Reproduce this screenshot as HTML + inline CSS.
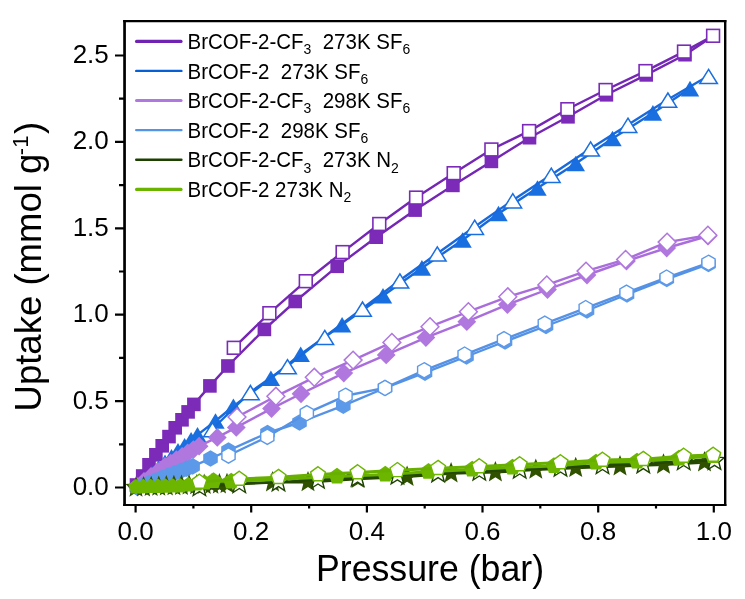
<!DOCTYPE html><html><head><meta charset="utf-8"><style>
html,body{margin:0;padding:0;background:#fff;}
svg{display:block;will-change:transform;}
text{font-family:"Liberation Sans", sans-serif;fill:#000;}
</style></head><body>
<svg width="745" height="599" viewBox="0 0 745 599">

<path d="M135.6 505V512.5 M193.4 505V508.5 M251.2 505V512.5 M309.1 505V508.5 M366.9 505V512.5 M424.7 505V508.5 M482.5 505V512.5 M540.3 505V508.5 M598.2 505V512.5 M656.0 505V508.5 M713.8 505V512.5 M124 487.5H115.0 M124 444.3H119.0 M124 401.1H115.0 M124 357.9H119.0 M124 314.7H115.0 M124 271.5H119.0 M124 228.3H115.0 M124 185.1H119.0 M124 141.9H115.0 M124 98.7H119.0 M124 55.5H115.0" stroke="#000" stroke-width="2.2" fill="none"/>
<text x="135.6" y="540" font-size="26" text-anchor="middle">0.0</text>
<text x="251.2" y="540" font-size="26" text-anchor="middle">0.2</text>
<text x="366.9" y="540" font-size="26" text-anchor="middle">0.4</text>
<text x="482.5" y="540" font-size="26" text-anchor="middle">0.6</text>
<text x="598.2" y="540" font-size="26" text-anchor="middle">0.8</text>
<text x="713.8" y="540" font-size="26" text-anchor="middle">1.0</text>
<text x="108.8" y="495.0" font-size="26" text-anchor="end">0.0</text>
<text x="108.8" y="408.6" font-size="26" text-anchor="end">0.5</text>
<text x="108.8" y="322.2" font-size="26" text-anchor="end">1.0</text>
<text x="108.8" y="235.8" font-size="26" text-anchor="end">1.5</text>
<text x="108.8" y="149.4" font-size="26" text-anchor="end">2.0</text>
<text x="108.8" y="63.0" font-size="26" text-anchor="end">2.5</text>
<text transform="translate(430,581) scale(1,1.01)" font-size="35.7" text-anchor="middle">Pressure (bar)</text>
<text transform="translate(41,411.5) rotate(-90) scale(1,1.01)" font-size="36.55">Uptake (mmol g<tspan dx="-1.5" dy="-13" font-size="22">-1</tspan><tspan dx="1.5" dy="13">)</tspan></text>
<defs><clipPath id="plotclip"><rect x="125.5" y="22" width="599" height="482"/></clipPath></defs><g clip-path="url(#plotclip)">
<path d="M136.5 485.0 L142.7 476.0 L149.0 464.8 L155.9 454.8 L162.2 445.8 L169.0 436.6 L175.2 427.8 L182.0 419.8 L188.1 411.9 L193.9 404.4 L209.9 385.9 L227.9 366.0 L264.4 329.4 L295.2 301.5 L337.2 266.3 L376.2 237.2 L415.1 210.1 L452.9 185.4 L491.4 161.4 L529.5 137.7 L568.0 116.8 L606.4 94.8 L646.2 74.9 L685.0 54.7 L713.2 36.0" fill="none" stroke="#7426B4" stroke-width="2.4" stroke-linejoin="round" stroke-linecap="round"/>
<rect x="129.7" y="478.2" width="13.6" height="13.6" fill="#7B2BB8" stroke="none" stroke-width="0"/>
<rect x="135.9" y="469.2" width="13.6" height="13.6" fill="#7B2BB8" stroke="none" stroke-width="0"/>
<rect x="142.2" y="458.0" width="13.6" height="13.6" fill="#7B2BB8" stroke="none" stroke-width="0"/>
<rect x="149.1" y="448.0" width="13.6" height="13.6" fill="#7B2BB8" stroke="none" stroke-width="0"/>
<rect x="155.4" y="439.0" width="13.6" height="13.6" fill="#7B2BB8" stroke="none" stroke-width="0"/>
<rect x="162.2" y="429.8" width="13.6" height="13.6" fill="#7B2BB8" stroke="none" stroke-width="0"/>
<rect x="168.4" y="421.0" width="13.6" height="13.6" fill="#7B2BB8" stroke="none" stroke-width="0"/>
<rect x="175.2" y="413.0" width="13.6" height="13.6" fill="#7B2BB8" stroke="none" stroke-width="0"/>
<rect x="181.3" y="405.1" width="13.6" height="13.6" fill="#7B2BB8" stroke="none" stroke-width="0"/>
<rect x="187.1" y="397.6" width="13.6" height="13.6" fill="#7B2BB8" stroke="none" stroke-width="0"/>
<rect x="203.1" y="379.1" width="13.6" height="13.6" fill="#7B2BB8" stroke="none" stroke-width="0"/>
<rect x="221.1" y="359.2" width="13.6" height="13.6" fill="#7B2BB8" stroke="none" stroke-width="0"/>
<rect x="257.6" y="322.6" width="13.6" height="13.6" fill="#7B2BB8" stroke="none" stroke-width="0"/>
<rect x="288.4" y="294.7" width="13.6" height="13.6" fill="#7B2BB8" stroke="none" stroke-width="0"/>
<rect x="330.4" y="259.5" width="13.6" height="13.6" fill="#7B2BB8" stroke="none" stroke-width="0"/>
<rect x="369.4" y="230.4" width="13.6" height="13.6" fill="#7B2BB8" stroke="none" stroke-width="0"/>
<rect x="408.3" y="203.3" width="13.6" height="13.6" fill="#7B2BB8" stroke="none" stroke-width="0"/>
<rect x="446.1" y="178.6" width="13.6" height="13.6" fill="#7B2BB8" stroke="none" stroke-width="0"/>
<rect x="484.6" y="154.6" width="13.6" height="13.6" fill="#7B2BB8" stroke="none" stroke-width="0"/>
<rect x="522.7" y="130.9" width="13.6" height="13.6" fill="#7B2BB8" stroke="none" stroke-width="0"/>
<rect x="561.2" y="110.0" width="13.6" height="13.6" fill="#7B2BB8" stroke="none" stroke-width="0"/>
<rect x="599.6" y="88.0" width="13.6" height="13.6" fill="#7B2BB8" stroke="none" stroke-width="0"/>
<rect x="639.4" y="68.1" width="13.6" height="13.6" fill="#7B2BB8" stroke="none" stroke-width="0"/>
<rect x="678.2" y="47.9" width="13.6" height="13.6" fill="#7B2BB8" stroke="none" stroke-width="0"/>
<rect x="706.4" y="29.2" width="13.6" height="13.6" fill="#7B2BB8" stroke="none" stroke-width="0"/>
<path d="M713.1 35.8 L684.0 51.6 L645.5 71.1 L605.6 90.0 L567.4 109.2 L529.1 131.1 L491.4 149.5 L453.7 173.2 L416.1 197.6 L379.3 224.0 L342.6 252.1 L305.8 281.2 L269.4 313.2 L233.8 347.8" fill="none" stroke="#7426B4" stroke-width="2.4" stroke-linejoin="round" stroke-linecap="round"/>
<rect x="706.7" y="29.4" width="12.8" height="12.8" fill="#fff" stroke="#7B2BB8" stroke-width="1.6"/>
<rect x="677.6" y="45.2" width="12.8" height="12.8" fill="#fff" stroke="#7B2BB8" stroke-width="1.6"/>
<rect x="639.1" y="64.7" width="12.8" height="12.8" fill="#fff" stroke="#7B2BB8" stroke-width="1.6"/>
<rect x="599.2" y="83.6" width="12.8" height="12.8" fill="#fff" stroke="#7B2BB8" stroke-width="1.6"/>
<rect x="561.0" y="102.8" width="12.8" height="12.8" fill="#fff" stroke="#7B2BB8" stroke-width="1.6"/>
<rect x="522.7" y="124.7" width="12.8" height="12.8" fill="#fff" stroke="#7B2BB8" stroke-width="1.6"/>
<rect x="485.0" y="143.1" width="12.8" height="12.8" fill="#fff" stroke="#7B2BB8" stroke-width="1.6"/>
<rect x="447.3" y="166.8" width="12.8" height="12.8" fill="#fff" stroke="#7B2BB8" stroke-width="1.6"/>
<rect x="409.7" y="191.2" width="12.8" height="12.8" fill="#fff" stroke="#7B2BB8" stroke-width="1.6"/>
<rect x="372.9" y="217.6" width="12.8" height="12.8" fill="#fff" stroke="#7B2BB8" stroke-width="1.6"/>
<rect x="336.2" y="245.7" width="12.8" height="12.8" fill="#fff" stroke="#7B2BB8" stroke-width="1.6"/>
<rect x="299.4" y="274.8" width="12.8" height="12.8" fill="#fff" stroke="#7B2BB8" stroke-width="1.6"/>
<rect x="263.0" y="306.8" width="12.8" height="12.8" fill="#fff" stroke="#7B2BB8" stroke-width="1.6"/>
<rect x="227.4" y="341.4" width="12.8" height="12.8" fill="#fff" stroke="#7B2BB8" stroke-width="1.6"/>
<path d="M139.0 484.5 L145.5 479.0 L152.0 473.5 L158.5 468.0 L165.0 462.4 L171.5 456.8 L178.0 450.8 L184.6 445.8 L191.1 439.8 L197.5 434.9 L215.5 421.0 L233.4 406.3 L270.9 378.3 L300.7 354.3 L342.1 324.8 L383.0 295.7 L421.9 267.9 L462.6 240.0 L498.5 213.5 L537.5 188.0 L575.8 163.5 L612.5 138.5 L652.9 112.9 L690.0 88.6" fill="none" stroke="#1869DC" stroke-width="2.4" stroke-linejoin="round" stroke-linecap="round"/>
<polygon points="139.0,476.7 148.2,492.3 129.8,492.3" fill="#1A6FE0"/>
<polygon points="145.5,471.2 154.7,486.8 136.3,486.8" fill="#1A6FE0"/>
<polygon points="152.0,465.7 161.2,481.3 142.8,481.3" fill="#1A6FE0"/>
<polygon points="158.5,460.2 167.7,475.8 149.3,475.8" fill="#1A6FE0"/>
<polygon points="165.0,454.6 174.2,470.2 155.8,470.2" fill="#1A6FE0"/>
<polygon points="171.5,449.0 180.7,464.6 162.3,464.6" fill="#1A6FE0"/>
<polygon points="178.0,443.0 187.2,458.6 168.8,458.6" fill="#1A6FE0"/>
<polygon points="184.6,438.0 193.8,453.6 175.4,453.6" fill="#1A6FE0"/>
<polygon points="191.1,432.0 200.3,447.6 181.9,447.6" fill="#1A6FE0"/>
<polygon points="197.5,427.1 206.7,442.7 188.3,442.7" fill="#1A6FE0"/>
<polygon points="215.5,413.2 224.7,428.8 206.3,428.8" fill="#1A6FE0"/>
<polygon points="233.4,398.5 242.6,414.1 224.2,414.1" fill="#1A6FE0"/>
<polygon points="270.9,370.5 280.1,386.1 261.7,386.1" fill="#1A6FE0"/>
<polygon points="300.7,346.5 309.9,362.1 291.5,362.1" fill="#1A6FE0"/>
<polygon points="342.1,317.0 351.3,332.6 332.9,332.6" fill="#1A6FE0"/>
<polygon points="383.0,287.9 392.2,303.5 373.8,303.5" fill="#1A6FE0"/>
<polygon points="421.9,260.1 431.1,275.7 412.7,275.7" fill="#1A6FE0"/>
<polygon points="462.6,232.2 471.8,247.8 453.4,247.8" fill="#1A6FE0"/>
<polygon points="498.5,205.7 507.7,221.3 489.3,221.3" fill="#1A6FE0"/>
<polygon points="537.5,180.2 546.7,195.8 528.3,195.8" fill="#1A6FE0"/>
<polygon points="575.8,155.7 585.0,171.3 566.6,171.3" fill="#1A6FE0"/>
<polygon points="612.5,130.7 621.7,146.3 603.3,146.3" fill="#1A6FE0"/>
<polygon points="652.9,105.1 662.1,120.7 643.7,120.7" fill="#1A6FE0"/>
<polygon points="690.0,80.8 699.2,96.4 680.8,96.4" fill="#1A6FE0"/>
<path d="M708.6 75.8 L667.9 99.5 L628.0 124.7 L590.6 148.4 L551.3 174.7 L512.8 200.2 L474.7 226.7 L437.3 253.4 L399.9 280.3 L362.5 308.5 L324.8 336.8 L287.5 366.1 L250.4 392.0 L212.5 429.0" fill="none" stroke="#1869DC" stroke-width="2.4" stroke-linejoin="round" stroke-linecap="round"/>
<polygon points="708.6,69.3 717.4,83.5 699.8,83.5" fill="#fff" stroke="#1A6FE0" stroke-width="1.5" stroke-linejoin="miter"/>
<polygon points="667.9,93.0 676.7,107.2 659.1,107.2" fill="#fff" stroke="#1A6FE0" stroke-width="1.5" stroke-linejoin="miter"/>
<polygon points="628.0,118.2 636.8,132.4 619.2,132.4" fill="#fff" stroke="#1A6FE0" stroke-width="1.5" stroke-linejoin="miter"/>
<polygon points="590.6,141.9 599.4,156.1 581.8,156.1" fill="#fff" stroke="#1A6FE0" stroke-width="1.5" stroke-linejoin="miter"/>
<polygon points="551.3,168.2 560.1,182.4 542.5,182.4" fill="#fff" stroke="#1A6FE0" stroke-width="1.5" stroke-linejoin="miter"/>
<polygon points="512.8,193.7 521.6,207.9 504.0,207.9" fill="#fff" stroke="#1A6FE0" stroke-width="1.5" stroke-linejoin="miter"/>
<polygon points="474.7,220.2 483.5,234.4 465.9,234.4" fill="#fff" stroke="#1A6FE0" stroke-width="1.5" stroke-linejoin="miter"/>
<polygon points="437.3,246.9 446.1,261.1 428.5,261.1" fill="#fff" stroke="#1A6FE0" stroke-width="1.5" stroke-linejoin="miter"/>
<polygon points="399.9,273.8 408.7,288.0 391.1,288.0" fill="#fff" stroke="#1A6FE0" stroke-width="1.5" stroke-linejoin="miter"/>
<polygon points="362.5,302.0 371.3,316.2 353.7,316.2" fill="#fff" stroke="#1A6FE0" stroke-width="1.5" stroke-linejoin="miter"/>
<polygon points="324.8,330.3 333.6,344.5 316.0,344.5" fill="#fff" stroke="#1A6FE0" stroke-width="1.5" stroke-linejoin="miter"/>
<polygon points="287.5,359.6 296.3,373.8 278.7,373.8" fill="#fff" stroke="#1A6FE0" stroke-width="1.5" stroke-linejoin="miter"/>
<polygon points="250.4,385.5 259.2,399.7 241.6,399.7" fill="#fff" stroke="#1A6FE0" stroke-width="1.5" stroke-linejoin="miter"/>
<polygon points="212.5,422.5 221.3,436.7 203.7,436.7" fill="#fff" stroke="#1A6FE0" stroke-width="1.5" stroke-linejoin="miter"/>
<path d="M137.0 486.5 L144.0 481.5 L151.0 476.5 L158.0 471.5 L165.0 466.5 L170.7 463.1 L176.4 459.7 L182.1 456.4 L187.7 453.0 L193.4 449.6 L199.1 446.2 L217.3 437.4 L236.3 427.4 L271.5 408.6 L301.0 393.8 L343.8 373.1 L386.2 354.9 L425.9 337.6 L466.8 321.7 L507.4 304.6 L547.5 289.5 L587.0 275.0 L626.5 261.0 L666.7 248.0 L708.0 236.0" fill="none" stroke="#AA6EDC" stroke-width="2.4" stroke-linejoin="round" stroke-linecap="round"/>
<polygon points="137.0,477.1 146.4,486.5 137.0,495.9 127.6,486.5" fill="#B077DF"/>
<polygon points="144.0,472.1 153.4,481.5 144.0,490.9 134.6,481.5" fill="#B077DF"/>
<polygon points="151.0,467.1 160.4,476.5 151.0,485.9 141.6,476.5" fill="#B077DF"/>
<polygon points="158.0,462.1 167.4,471.5 158.0,480.9 148.6,471.5" fill="#B077DF"/>
<polygon points="165.0,457.1 174.4,466.5 165.0,475.9 155.6,466.5" fill="#B077DF"/>
<polygon points="170.7,453.7 180.1,463.1 170.7,472.5 161.3,463.1" fill="#B077DF"/>
<polygon points="176.4,450.3 185.8,459.7 176.4,469.1 167.0,459.7" fill="#B077DF"/>
<polygon points="182.1,447.0 191.5,456.4 182.1,465.8 172.7,456.4" fill="#B077DF"/>
<polygon points="187.7,443.6 197.1,453.0 187.7,462.4 178.3,453.0" fill="#B077DF"/>
<polygon points="193.4,440.2 202.8,449.6 193.4,459.0 184.0,449.6" fill="#B077DF"/>
<polygon points="199.1,436.8 208.5,446.2 199.1,455.6 189.7,446.2" fill="#B077DF"/>
<polygon points="217.3,428.0 226.7,437.4 217.3,446.8 207.9,437.4" fill="#B077DF"/>
<polygon points="236.3,418.0 245.7,427.4 236.3,436.8 226.9,427.4" fill="#B077DF"/>
<polygon points="271.5,399.2 280.9,408.6 271.5,418.0 262.1,408.6" fill="#B077DF"/>
<polygon points="301.0,384.4 310.4,393.8 301.0,403.2 291.6,393.8" fill="#B077DF"/>
<polygon points="343.8,363.7 353.2,373.1 343.8,382.5 334.4,373.1" fill="#B077DF"/>
<polygon points="386.2,345.5 395.6,354.9 386.2,364.3 376.8,354.9" fill="#B077DF"/>
<polygon points="425.9,328.2 435.3,337.6 425.9,347.0 416.5,337.6" fill="#B077DF"/>
<polygon points="466.8,312.3 476.2,321.7 466.8,331.1 457.4,321.7" fill="#B077DF"/>
<polygon points="507.4,295.2 516.8,304.6 507.4,314.0 498.0,304.6" fill="#B077DF"/>
<polygon points="547.5,280.1 556.9,289.5 547.5,298.9 538.1,289.5" fill="#B077DF"/>
<polygon points="587.0,265.6 596.4,275.0 587.0,284.4 577.6,275.0" fill="#B077DF"/>
<polygon points="626.5,251.6 635.9,261.0 626.5,270.4 617.1,261.0" fill="#B077DF"/>
<polygon points="666.7,238.6 676.1,248.0 666.7,257.4 657.3,248.0" fill="#B077DF"/>
<polygon points="708.0,226.6 717.4,236.0 708.0,245.4 698.6,236.0" fill="#B077DF"/>
<path d="M707.9 235.2 L667.1 242.1 L625.6 259.4 L586.0 271.1 L546.8 284.9 L507.8 296.8 L468.4 311.7 L430.0 326.7 L391.9 342.4 L353.1 360.1 L314.3 377.3 L275.9 396.3 L237.0 417.0" fill="none" stroke="#AA6EDC" stroke-width="2.4" stroke-linejoin="round" stroke-linecap="round"/>
<polygon points="707.9,226.3 716.8,235.2 707.9,244.1 699.0,235.2" fill="#fff" stroke="#B077DF" stroke-width="1.5" stroke-linejoin="miter"/>
<polygon points="667.1,233.2 676.0,242.1 667.1,251.0 658.2,242.1" fill="#fff" stroke="#B077DF" stroke-width="1.5" stroke-linejoin="miter"/>
<polygon points="625.6,250.5 634.5,259.4 625.6,268.3 616.7,259.4" fill="#fff" stroke="#B077DF" stroke-width="1.5" stroke-linejoin="miter"/>
<polygon points="586.0,262.2 594.9,271.1 586.0,280.0 577.1,271.1" fill="#fff" stroke="#B077DF" stroke-width="1.5" stroke-linejoin="miter"/>
<polygon points="546.8,276.0 555.7,284.9 546.8,293.8 537.9,284.9" fill="#fff" stroke="#B077DF" stroke-width="1.5" stroke-linejoin="miter"/>
<polygon points="507.8,287.9 516.7,296.8 507.8,305.7 498.9,296.8" fill="#fff" stroke="#B077DF" stroke-width="1.5" stroke-linejoin="miter"/>
<polygon points="468.4,302.8 477.3,311.7 468.4,320.6 459.5,311.7" fill="#fff" stroke="#B077DF" stroke-width="1.5" stroke-linejoin="miter"/>
<polygon points="430.0,317.8 438.9,326.7 430.0,335.6 421.1,326.7" fill="#fff" stroke="#B077DF" stroke-width="1.5" stroke-linejoin="miter"/>
<polygon points="391.9,333.5 400.8,342.4 391.9,351.3 383.0,342.4" fill="#fff" stroke="#B077DF" stroke-width="1.5" stroke-linejoin="miter"/>
<polygon points="353.1,351.2 362.0,360.1 353.1,369.0 344.2,360.1" fill="#fff" stroke="#B077DF" stroke-width="1.5" stroke-linejoin="miter"/>
<polygon points="314.3,368.4 323.2,377.3 314.3,386.2 305.4,377.3" fill="#fff" stroke="#B077DF" stroke-width="1.5" stroke-linejoin="miter"/>
<polygon points="275.9,387.4 284.8,396.3 275.9,405.2 267.0,396.3" fill="#fff" stroke="#B077DF" stroke-width="1.5" stroke-linejoin="miter"/>
<polygon points="237.0,408.1 245.9,417.0 237.0,425.9 228.1,417.0" fill="#fff" stroke="#B077DF" stroke-width="1.5" stroke-linejoin="miter"/>
<path d="M137.0 487.5 L143.2 485.2 L149.4 482.8 L155.5 480.5 L161.7 478.1 L167.9 475.8 L174.1 473.4 L180.2 471.1 L186.4 468.7 L192.6 466.4 L210.5 458.5 L228.5 450.5 L267.5 433.0 L299.5 422.5 L343.3 405.7 L385.0 388.0 L425.0 372.7 L466.5 356.5 L505.0 341.5 L546.0 326.0 L587.0 310.5 L627.0 294.5 L666.8 279.0 L708.5 264.0" fill="none" stroke="#5592E6" stroke-width="2.4" stroke-linejoin="round" stroke-linecap="round"/>
<polygon points="137.0,479.2 144.3,483.4 144.3,491.6 137.0,495.8 129.7,491.6 129.7,483.4" fill="#5C99E9"/>
<polygon points="143.2,476.9 150.5,481.0 150.5,489.3 143.2,493.5 135.9,489.3 135.9,481.0" fill="#5C99E9"/>
<polygon points="149.4,474.5 156.7,478.7 156.7,487.0 149.4,491.1 142.1,487.0 142.1,478.7" fill="#5C99E9"/>
<polygon points="155.5,472.2 162.8,476.3 162.8,484.6 155.5,488.8 148.2,484.6 148.2,476.3" fill="#5C99E9"/>
<polygon points="161.7,469.8 169.0,474.0 169.0,482.3 161.7,486.4 154.4,482.3 154.4,474.0" fill="#5C99E9"/>
<polygon points="167.9,467.5 175.2,471.6 175.2,479.9 167.9,484.1 160.6,479.9 160.6,471.6" fill="#5C99E9"/>
<polygon points="174.1,465.1 181.4,469.3 181.4,477.6 174.1,481.7 166.8,477.6 166.8,469.3" fill="#5C99E9"/>
<polygon points="180.2,462.8 187.5,466.9 187.5,475.2 180.2,479.4 172.9,475.2 172.9,466.9" fill="#5C99E9"/>
<polygon points="186.4,460.4 193.7,464.6 193.7,472.9 186.4,477.0 179.1,472.9 179.1,464.6" fill="#5C99E9"/>
<polygon points="192.6,458.1 199.9,462.2 199.9,470.5 192.6,474.7 185.3,470.5 185.3,462.2" fill="#5C99E9"/>
<polygon points="210.5,450.2 217.8,454.4 217.8,462.6 210.5,466.8 203.2,462.6 203.2,454.4" fill="#5C99E9"/>
<polygon points="228.5,442.2 235.8,446.4 235.8,454.6 228.5,458.8 221.2,454.6 221.2,446.4" fill="#5C99E9"/>
<polygon points="267.5,424.7 274.8,428.9 274.8,437.1 267.5,441.3 260.2,437.1 260.2,428.9" fill="#5C99E9"/>
<polygon points="299.5,414.2 306.8,418.4 306.8,426.6 299.5,430.8 292.2,426.6 292.2,418.4" fill="#5C99E9"/>
<polygon points="343.3,397.4 350.6,401.6 350.6,409.8 343.3,414.0 336.0,409.8 336.0,401.6" fill="#5C99E9"/>
<polygon points="385.0,379.7 392.3,383.9 392.3,392.1 385.0,396.3 377.7,392.1 377.7,383.9" fill="#5C99E9"/>
<polygon points="425.0,364.4 432.3,368.6 432.3,376.8 425.0,381.0 417.7,376.8 417.7,368.6" fill="#5C99E9"/>
<polygon points="466.5,348.2 473.8,352.4 473.8,360.6 466.5,364.8 459.2,360.6 459.2,352.4" fill="#5C99E9"/>
<polygon points="505.0,333.2 512.3,337.4 512.3,345.6 505.0,349.8 497.7,345.6 497.7,337.4" fill="#5C99E9"/>
<polygon points="546.0,317.7 553.3,321.9 553.3,330.1 546.0,334.3 538.7,330.1 538.7,321.9" fill="#5C99E9"/>
<polygon points="587.0,302.2 594.3,306.4 594.3,314.6 587.0,318.8 579.7,314.6 579.7,306.4" fill="#5C99E9"/>
<polygon points="627.0,286.2 634.3,290.4 634.3,298.6 627.0,302.8 619.7,298.6 619.7,290.4" fill="#5C99E9"/>
<polygon points="666.8,270.7 674.1,274.9 674.1,283.1 666.8,287.3 659.5,283.1 659.5,274.9" fill="#5C99E9"/>
<polygon points="708.5,255.7 715.8,259.9 715.8,268.1 708.5,272.3 701.2,268.1 701.2,259.9" fill="#5C99E9"/>
<path d="M708.5 262.8 L666.6 277.6 L626.5 292.7 L585.7 308.1 L544.8 323.7 L504.0 339.2 L464.6 354.6 L424.2 370.3 L385.0 387.9 L345.5 395.8 L306.8 413.2 L267.3 436.8 L228.5 455.5" fill="none" stroke="#5592E6" stroke-width="2.4" stroke-linejoin="round" stroke-linecap="round"/>
<polygon points="708.5,255.2 715.1,259.0 715.1,266.6 708.5,270.4 701.9,266.6 701.9,259.0" fill="#fff" stroke="#5C99E9" stroke-width="1.4" stroke-linejoin="miter"/>
<polygon points="666.6,270.0 673.2,273.8 673.2,281.4 666.6,285.2 660.0,281.4 660.0,273.8" fill="#fff" stroke="#5C99E9" stroke-width="1.4" stroke-linejoin="miter"/>
<polygon points="626.5,285.1 633.1,288.9 633.1,296.5 626.5,300.3 619.9,296.5 619.9,288.9" fill="#fff" stroke="#5C99E9" stroke-width="1.4" stroke-linejoin="miter"/>
<polygon points="585.7,300.5 592.3,304.3 592.3,311.9 585.7,315.7 579.1,311.9 579.1,304.3" fill="#fff" stroke="#5C99E9" stroke-width="1.4" stroke-linejoin="miter"/>
<polygon points="544.8,316.1 551.4,319.9 551.4,327.5 544.8,331.3 538.2,327.5 538.2,319.9" fill="#fff" stroke="#5C99E9" stroke-width="1.4" stroke-linejoin="miter"/>
<polygon points="504.0,331.6 510.6,335.4 510.6,343.0 504.0,346.8 497.4,343.0 497.4,335.4" fill="#fff" stroke="#5C99E9" stroke-width="1.4" stroke-linejoin="miter"/>
<polygon points="464.6,347.0 471.2,350.8 471.2,358.4 464.6,362.2 458.0,358.4 458.0,350.8" fill="#fff" stroke="#5C99E9" stroke-width="1.4" stroke-linejoin="miter"/>
<polygon points="424.2,362.7 430.8,366.5 430.8,374.1 424.2,377.9 417.6,374.1 417.6,366.5" fill="#fff" stroke="#5C99E9" stroke-width="1.4" stroke-linejoin="miter"/>
<polygon points="385.0,380.3 391.6,384.1 391.6,391.7 385.0,395.5 378.4,391.7 378.4,384.1" fill="#fff" stroke="#5C99E9" stroke-width="1.4" stroke-linejoin="miter"/>
<polygon points="345.5,388.2 352.1,392.0 352.1,399.6 345.5,403.4 338.9,399.6 338.9,392.0" fill="#fff" stroke="#5C99E9" stroke-width="1.4" stroke-linejoin="miter"/>
<polygon points="306.8,405.6 313.4,409.4 313.4,417.0 306.8,420.8 300.2,417.0 300.2,409.4" fill="#fff" stroke="#5C99E9" stroke-width="1.4" stroke-linejoin="miter"/>
<polygon points="267.3,429.2 273.9,433.0 273.9,440.6 267.3,444.4 260.7,440.6 260.7,433.0" fill="#fff" stroke="#5C99E9" stroke-width="1.4" stroke-linejoin="miter"/>
<polygon points="228.5,447.9 235.1,451.7 235.1,459.3 228.5,463.1 221.9,459.3 221.9,451.7" fill="#fff" stroke="#5C99E9" stroke-width="1.4" stroke-linejoin="miter"/>
<path d="M136.0 487.6 L143.6 487.3 L151.2 487.0 L158.8 486.7 L166.3 486.4 L173.9 486.1 L181.5 485.8 L189.1 485.5 L196.7 485.2 L204.2 484.9 L211.8 484.6 L219.4 484.3 L227.0 484.0 L272.5 482.3 L308.0 482.2 L358.0 479.0 L407.1 476.8 L451.1 473.4 L495.4 472.3 L535.8 469.7 L575.7 468.0 L620.0 466.3 L663.5 464.6 L704.5 462.4" fill="none" stroke="#244800" stroke-width="2.6" stroke-linejoin="round" stroke-linecap="round"/>
<polygon points="136.0,476.3 138.9,483.6 146.7,484.1 140.7,489.1 142.6,496.7 136.0,492.5 129.4,496.7 131.3,489.1 125.3,484.1 133.1,483.6" fill="#305200"/>
<polygon points="143.6,476.0 146.5,483.3 154.3,483.8 148.2,488.8 150.2,496.4 143.6,492.2 136.9,496.4 138.9,488.8 132.8,483.8 140.7,483.3" fill="#305200"/>
<polygon points="151.2,475.7 154.0,483.0 161.9,483.5 155.8,488.5 157.8,496.1 151.2,491.9 144.5,496.1 146.5,488.5 140.4,483.5 148.3,483.0" fill="#305200"/>
<polygon points="158.8,475.4 161.6,482.7 169.5,483.2 163.4,488.2 165.4,495.8 158.8,491.6 152.1,495.8 154.1,488.2 148.0,483.2 155.9,482.7" fill="#305200"/>
<polygon points="166.3,475.1 169.2,482.4 177.1,482.9 171.0,487.9 173.0,495.5 166.3,491.3 159.7,495.5 161.7,487.9 155.6,482.9 163.5,482.4" fill="#305200"/>
<polygon points="173.9,474.8 176.8,482.1 184.7,482.6 178.6,487.6 180.6,495.2 173.9,491.0 167.3,495.2 169.3,487.6 163.2,482.6 171.0,482.1" fill="#305200"/>
<polygon points="181.5,474.5 184.4,481.8 192.2,482.3 186.2,487.3 188.1,494.9 181.5,490.7 174.9,494.9 176.8,487.3 170.8,482.3 178.6,481.8" fill="#305200"/>
<polygon points="189.1,474.2 192.0,481.5 199.8,482.0 193.7,487.0 195.7,494.6 189.1,490.4 182.4,494.6 184.4,487.0 178.3,482.0 186.2,481.5" fill="#305200"/>
<polygon points="196.7,473.9 199.5,481.2 207.4,481.7 201.3,486.7 203.3,494.3 196.7,490.1 190.0,494.3 192.0,486.7 185.9,481.7 193.8,481.2" fill="#305200"/>
<polygon points="204.2,473.6 207.1,480.9 215.0,481.4 208.9,486.4 210.9,494.0 204.2,489.8 197.6,494.0 199.6,486.4 193.5,481.4 201.4,480.9" fill="#305200"/>
<polygon points="211.8,473.3 214.7,480.6 222.6,481.1 216.5,486.1 218.5,493.7 211.8,489.5 205.2,493.7 207.2,486.1 201.1,481.1 209.0,480.6" fill="#305200"/>
<polygon points="219.4,473.0 222.3,480.3 230.2,480.8 224.1,485.8 226.1,493.4 219.4,489.2 212.8,493.4 214.8,485.8 208.7,480.8 216.5,480.3" fill="#305200"/>
<polygon points="227.0,472.7 229.9,480.0 237.7,480.5 231.7,485.5 233.6,493.1 227.0,488.9 220.4,493.1 222.3,485.5 216.3,480.5 224.1,480.0" fill="#305200"/>
<polygon points="272.5,471.0 275.4,478.3 283.2,478.8 277.2,483.8 279.1,491.4 272.5,487.2 265.9,491.4 267.8,483.8 261.8,478.8 269.6,478.3" fill="#305200"/>
<polygon points="308.0,470.9 310.9,478.2 318.7,478.7 312.7,483.7 314.6,491.3 308.0,487.1 301.4,491.3 303.3,483.7 297.3,478.7 305.1,478.2" fill="#305200"/>
<polygon points="358.0,467.7 360.9,475.0 368.7,475.5 362.7,480.5 364.6,488.1 358.0,483.9 351.4,488.1 353.3,480.5 347.3,475.5 355.1,475.0" fill="#305200"/>
<polygon points="407.1,465.5 410.0,472.8 417.8,473.3 411.8,478.3 413.7,485.9 407.1,481.7 400.5,485.9 402.4,478.3 396.4,473.3 404.2,472.8" fill="#305200"/>
<polygon points="451.1,462.1 454.0,469.4 461.8,469.9 455.8,474.9 457.7,482.5 451.1,478.3 444.5,482.5 446.4,474.9 440.4,469.9 448.2,469.4" fill="#305200"/>
<polygon points="495.4,461.0 498.3,468.3 506.1,468.8 500.1,473.8 502.0,481.4 495.4,477.2 488.8,481.4 490.7,473.8 484.7,468.8 492.5,468.3" fill="#305200"/>
<polygon points="535.8,458.4 538.7,465.7 546.5,466.2 540.5,471.2 542.4,478.8 535.8,474.6 529.2,478.8 531.1,471.2 525.1,466.2 532.9,465.7" fill="#305200"/>
<polygon points="575.7,456.7 578.6,464.0 586.4,464.5 580.4,469.5 582.3,477.1 575.7,472.9 569.1,477.1 571.0,469.5 565.0,464.5 572.8,464.0" fill="#305200"/>
<polygon points="620.0,455.0 622.9,462.3 630.7,462.8 624.7,467.8 626.6,475.4 620.0,471.2 613.4,475.4 615.3,467.8 609.3,462.8 617.1,462.3" fill="#305200"/>
<polygon points="663.5,453.3 666.4,460.6 674.2,461.1 668.2,466.1 670.1,473.7 663.5,469.5 656.9,473.7 658.8,466.1 652.8,461.1 660.6,460.6" fill="#305200"/>
<polygon points="704.5,451.1 707.4,458.4 715.2,458.9 709.2,463.9 711.1,471.5 704.5,467.3 697.9,471.5 699.8,463.9 693.8,458.9 701.6,458.4" fill="#305200"/>
<path d="M714.5 460.8 L683.7 461.0 L643.3 464.2 L602.5 465.0 L560.5 467.5 L519.7 469.5 L479.3 471.5 L438.1 473.2 L397.4 475.3 L357.6 477.5 L318.0 479.5 L278.5 482.2 L239.3 484.0 L199.4 487.0" fill="none" stroke="#244800" stroke-width="2.4" stroke-linejoin="round" stroke-linecap="round"/>
<polygon points="714.5,450.3 717.1,457.2 724.5,457.6 718.8,462.2 720.7,469.3 714.5,465.3 708.3,469.3 710.2,462.2 704.5,457.6 711.9,457.2" fill="#fff" stroke="#1E4300" stroke-width="1.4" stroke-linejoin="miter"/>
<polygon points="683.7,450.5 686.3,457.4 693.7,457.8 688.0,462.4 689.9,469.5 683.7,465.5 677.5,469.5 679.4,462.4 673.7,457.8 681.1,457.4" fill="#fff" stroke="#1E4300" stroke-width="1.4" stroke-linejoin="miter"/>
<polygon points="643.3,453.7 645.9,460.6 653.3,461.0 647.6,465.6 649.5,472.7 643.3,468.7 637.1,472.7 639.0,465.6 633.3,461.0 640.7,460.6" fill="#fff" stroke="#1E4300" stroke-width="1.4" stroke-linejoin="miter"/>
<polygon points="602.5,454.5 605.1,461.4 612.5,461.8 606.8,466.4 608.7,473.5 602.5,469.5 596.3,473.5 598.2,466.4 592.5,461.8 599.9,461.4" fill="#fff" stroke="#1E4300" stroke-width="1.4" stroke-linejoin="miter"/>
<polygon points="560.5,457.0 563.1,463.9 570.5,464.3 564.8,468.9 566.7,476.0 560.5,472.0 554.3,476.0 556.2,468.9 550.5,464.3 557.9,463.9" fill="#fff" stroke="#1E4300" stroke-width="1.4" stroke-linejoin="miter"/>
<polygon points="519.7,459.0 522.3,465.9 529.7,466.3 524.0,470.9 525.9,478.0 519.7,474.0 513.5,478.0 515.4,470.9 509.7,466.3 517.1,465.9" fill="#fff" stroke="#1E4300" stroke-width="1.4" stroke-linejoin="miter"/>
<polygon points="479.3,461.0 481.9,467.9 489.3,468.3 483.6,472.9 485.5,480.0 479.3,476.0 473.1,480.0 475.0,472.9 469.3,468.3 476.7,467.9" fill="#fff" stroke="#1E4300" stroke-width="1.4" stroke-linejoin="miter"/>
<polygon points="438.1,462.7 440.7,469.6 448.1,470.0 442.4,474.6 444.3,481.7 438.1,477.7 431.9,481.7 433.8,474.6 428.1,470.0 435.5,469.6" fill="#fff" stroke="#1E4300" stroke-width="1.4" stroke-linejoin="miter"/>
<polygon points="397.4,464.8 400.0,471.7 407.4,472.1 401.7,476.7 403.6,483.8 397.4,479.8 391.2,483.8 393.1,476.7 387.4,472.1 394.8,471.7" fill="#fff" stroke="#1E4300" stroke-width="1.4" stroke-linejoin="miter"/>
<polygon points="357.6,467.0 360.2,473.9 367.6,474.3 361.9,478.9 363.8,486.0 357.6,482.0 351.4,486.0 353.3,478.9 347.6,474.3 355.0,473.9" fill="#fff" stroke="#1E4300" stroke-width="1.4" stroke-linejoin="miter"/>
<polygon points="318.0,469.0 320.6,475.9 328.0,476.3 322.3,480.9 324.2,488.0 318.0,484.0 311.8,488.0 313.7,480.9 308.0,476.3 315.4,475.9" fill="#fff" stroke="#1E4300" stroke-width="1.4" stroke-linejoin="miter"/>
<polygon points="278.5,471.7 281.1,478.6 288.5,479.0 282.8,483.6 284.7,490.7 278.5,486.7 272.3,490.7 274.2,483.6 268.5,479.0 275.9,478.6" fill="#fff" stroke="#1E4300" stroke-width="1.4" stroke-linejoin="miter"/>
<polygon points="239.3,473.5 241.9,480.4 249.3,480.8 243.6,485.4 245.5,492.5 239.3,488.5 233.1,492.5 235.0,485.4 229.3,480.8 236.7,480.4" fill="#fff" stroke="#1E4300" stroke-width="1.4" stroke-linejoin="miter"/>
<polygon points="199.4,476.5 202.0,483.4 209.4,483.8 203.7,488.4 205.6,495.5 199.4,491.5 193.2,495.5 195.1,488.4 189.4,483.8 196.8,483.4" fill="#fff" stroke="#1E4300" stroke-width="1.4" stroke-linejoin="miter"/>
<path d="M136.0 487.0 L143.3 486.8 L150.7 486.7 L158.0 486.5 L165.3 486.3 L172.7 486.2 L180.0 486.0 L188.3 485.0 L196.7 484.0 L205.0 483.0 L213.5 481.0 L231.2 481.5 L337.0 476.5 L385.3 474.5 L428.5 471.7 L472.2 469.4 L512.5 467.5 L554.0 466.0 L596.0 462.5 L637.0 461.5 L679.0 458.5 L713.0 456.0" fill="none" stroke="#68B000" stroke-width="3" stroke-linejoin="round" stroke-linecap="round"/>
<polygon points="136.0,479.0 143.6,484.5 140.7,493.5 131.3,493.5 128.4,484.5" fill="#6DB600"/>
<polygon points="143.3,478.8 150.9,484.4 148.0,493.3 138.6,493.3 135.7,484.4" fill="#6DB600"/>
<polygon points="150.7,478.7 158.3,484.2 155.4,493.1 146.0,493.1 143.1,484.2" fill="#6DB600"/>
<polygon points="158.0,478.5 165.6,484.0 162.7,493.0 153.3,493.0 150.4,484.0" fill="#6DB600"/>
<polygon points="165.3,478.3 172.9,483.9 170.0,492.8 160.6,492.8 157.7,483.9" fill="#6DB600"/>
<polygon points="172.7,478.2 180.3,483.7 177.4,492.6 168.0,492.6 165.1,483.7" fill="#6DB600"/>
<polygon points="180.0,478.0 187.6,483.5 184.7,492.5 175.3,492.5 172.4,483.5" fill="#6DB600"/>
<polygon points="188.3,477.0 195.9,482.5 193.0,491.5 183.6,491.5 180.7,482.5" fill="#6DB600"/>
<polygon points="196.7,476.0 204.3,481.5 201.4,490.5 192.0,490.5 189.1,481.5" fill="#6DB600"/>
<polygon points="205.0,475.0 212.6,480.5 209.7,489.5 200.3,489.5 197.4,480.5" fill="#6DB600"/>
<polygon points="213.5,472.3 221.8,478.3 218.6,488.0 208.4,488.0 205.2,478.3" fill="#6DB600"/>
<polygon points="231.2,472.8 239.5,478.8 236.3,488.5 226.1,488.5 222.9,478.8" fill="#6DB600"/>
<polygon points="337.0,467.8 345.3,473.8 342.1,483.5 331.9,483.5 328.7,473.8" fill="#6DB600"/>
<polygon points="385.3,465.8 393.6,471.8 390.4,481.5 380.2,481.5 377.0,471.8" fill="#6DB600"/>
<polygon points="428.5,463.0 436.8,469.0 433.6,478.7 423.4,478.7 420.2,469.0" fill="#6DB600"/>
<polygon points="472.2,460.7 480.5,466.7 477.3,476.4 467.1,476.4 463.9,466.7" fill="#6DB600"/>
<polygon points="512.5,458.8 520.8,464.8 517.6,474.5 507.4,474.5 504.2,464.8" fill="#6DB600"/>
<polygon points="554.0,457.3 562.3,463.3 559.1,473.0 548.9,473.0 545.7,463.3" fill="#6DB600"/>
<polygon points="596.0,453.8 604.3,459.8 601.1,469.5 590.9,469.5 587.7,459.8" fill="#6DB600"/>
<polygon points="637.0,452.8 645.3,458.8 642.1,468.5 631.9,468.5 628.7,458.8" fill="#6DB600"/>
<polygon points="679.0,449.8 687.3,455.8 684.1,465.5 673.9,465.5 670.7,455.8" fill="#6DB600"/>
<polygon points="713.0,447.3 721.3,453.3 718.1,463.0 707.9,463.0 704.7,453.3" fill="#6DB600"/>
<path d="M713.2 455.0 L683.7 456.0 L643.3 459.2 L602.5 460.0 L560.5 462.5 L519.7 464.5 L479.3 466.5 L438.1 468.2 L397.4 470.3 L357.6 472.5 L318.0 474.5 L278.5 477.2 L239.3 479.0 L199.4 482.0" fill="none" stroke="#68B000" stroke-width="3" stroke-linejoin="round" stroke-linecap="round"/>
<polygon points="713.2,447.2 720.6,452.6 717.8,461.3 708.6,461.3 705.8,452.6" fill="#fff" stroke="#6DB600" stroke-width="1.4" stroke-linejoin="miter"/>
<polygon points="683.7,448.2 691.1,453.6 688.3,462.3 679.1,462.3 676.3,453.6" fill="#fff" stroke="#6DB600" stroke-width="1.4" stroke-linejoin="miter"/>
<polygon points="643.3,451.4 650.7,456.8 647.9,465.5 638.7,465.5 635.9,456.8" fill="#fff" stroke="#6DB600" stroke-width="1.4" stroke-linejoin="miter"/>
<polygon points="602.5,452.2 609.9,457.6 607.1,466.3 597.9,466.3 595.1,457.6" fill="#fff" stroke="#6DB600" stroke-width="1.4" stroke-linejoin="miter"/>
<polygon points="560.5,454.7 567.9,460.1 565.1,468.8 555.9,468.8 553.1,460.1" fill="#fff" stroke="#6DB600" stroke-width="1.4" stroke-linejoin="miter"/>
<polygon points="519.7,456.7 527.1,462.1 524.3,470.8 515.1,470.8 512.3,462.1" fill="#fff" stroke="#6DB600" stroke-width="1.4" stroke-linejoin="miter"/>
<polygon points="479.3,458.7 486.7,464.1 483.9,472.8 474.7,472.8 471.9,464.1" fill="#fff" stroke="#6DB600" stroke-width="1.4" stroke-linejoin="miter"/>
<polygon points="438.1,460.4 445.5,465.8 442.7,474.5 433.5,474.5 430.7,465.8" fill="#fff" stroke="#6DB600" stroke-width="1.4" stroke-linejoin="miter"/>
<polygon points="397.4,462.5 404.8,467.9 402.0,476.6 392.8,476.6 390.0,467.9" fill="#fff" stroke="#6DB600" stroke-width="1.4" stroke-linejoin="miter"/>
<polygon points="357.6,464.7 365.0,470.1 362.2,478.8 353.0,478.8 350.2,470.1" fill="#fff" stroke="#6DB600" stroke-width="1.4" stroke-linejoin="miter"/>
<polygon points="318.0,466.7 325.4,472.1 322.6,480.8 313.4,480.8 310.6,472.1" fill="#fff" stroke="#6DB600" stroke-width="1.4" stroke-linejoin="miter"/>
<polygon points="278.5,469.4 285.9,474.8 283.1,483.5 273.9,483.5 271.1,474.8" fill="#fff" stroke="#6DB600" stroke-width="1.4" stroke-linejoin="miter"/>
<polygon points="239.3,471.2 246.7,476.6 243.9,485.3 234.7,485.3 231.9,476.6" fill="#fff" stroke="#6DB600" stroke-width="1.4" stroke-linejoin="miter"/>
<polygon points="199.4,474.2 206.8,479.6 204.0,488.3 194.8,488.3 192.0,479.6" fill="#fff" stroke="#6DB600" stroke-width="1.4" stroke-linejoin="miter"/>
</g>
<line x1="136.55" y1="41.4" x2="181.05" y2="41.4" stroke="#7022B2" stroke-width="3.1" stroke-linecap="round"/>
<text transform="translate(187.5,49.0) scale(1,1.05)" font-size="20.5">BrCOF-2-CF<tspan font-size="14" dy="5">3</tspan><tspan dy="-5" xml:space="preserve">  273K SF</tspan><tspan font-size="14" dy="5">6</tspan></text>
<line x1="136.20" y1="70.9" x2="181.40" y2="70.9" stroke="#0560D8" stroke-width="2.4" stroke-linecap="round"/>
<text transform="translate(187.5,78.5) scale(1,1.05)" font-size="20.5"><tspan xml:space="preserve">BrCOF-2  273K SF</tspan><tspan font-size="14" dy="5">6</tspan></text>
<line x1="136.60" y1="100.5" x2="181.00" y2="100.5" stroke="#AE78DE" stroke-width="3.2" stroke-linecap="round"/>
<text transform="translate(187.5,108.1) scale(1,1.05)" font-size="20.5">BrCOF-2-CF<tspan font-size="14" dy="5">3</tspan><tspan dy="-5" xml:space="preserve">  298K SF</tspan><tspan font-size="14" dy="5">6</tspan></text>
<line x1="136.20" y1="130.1" x2="181.40" y2="130.1" stroke="#5393E8" stroke-width="2.4" stroke-linecap="round"/>
<text transform="translate(187.5,137.7) scale(1,1.05)" font-size="20.5"><tspan xml:space="preserve">BrCOF-2  298K SF</tspan><tspan font-size="14" dy="5">6</tspan></text>
<line x1="136.20" y1="159.8" x2="181.40" y2="159.8" stroke="#1B4000" stroke-width="2.4" stroke-linecap="round"/>
<text transform="translate(187.5,167.4) scale(1,1.05)" font-size="20.5">BrCOF-2-CF<tspan font-size="14" dy="5">3</tspan><tspan dy="-5" xml:space="preserve">  273K N</tspan><tspan font-size="14" dy="5">2</tspan></text>
<line x1="136.60" y1="189.4" x2="181.00" y2="189.4" stroke="#6AB400" stroke-width="3.2" stroke-linecap="round"/>
<text transform="translate(187.5,197.0) scale(1,1.05)" font-size="20.5">BrCOF-2 273K N<tspan font-size="14" dy="5">2</tspan></text>
<path d="M123.2 21.1H726.4" stroke="#000" stroke-width="2.2"/><path d="M123.2 504.95H726.4" stroke="#000" stroke-width="1.9"/><path d="M124.55 20V506" stroke="#000" stroke-width="2.7"/><path d="M725.2 20V506" stroke="#000" stroke-width="2.4"/>
</svg></body></html>
